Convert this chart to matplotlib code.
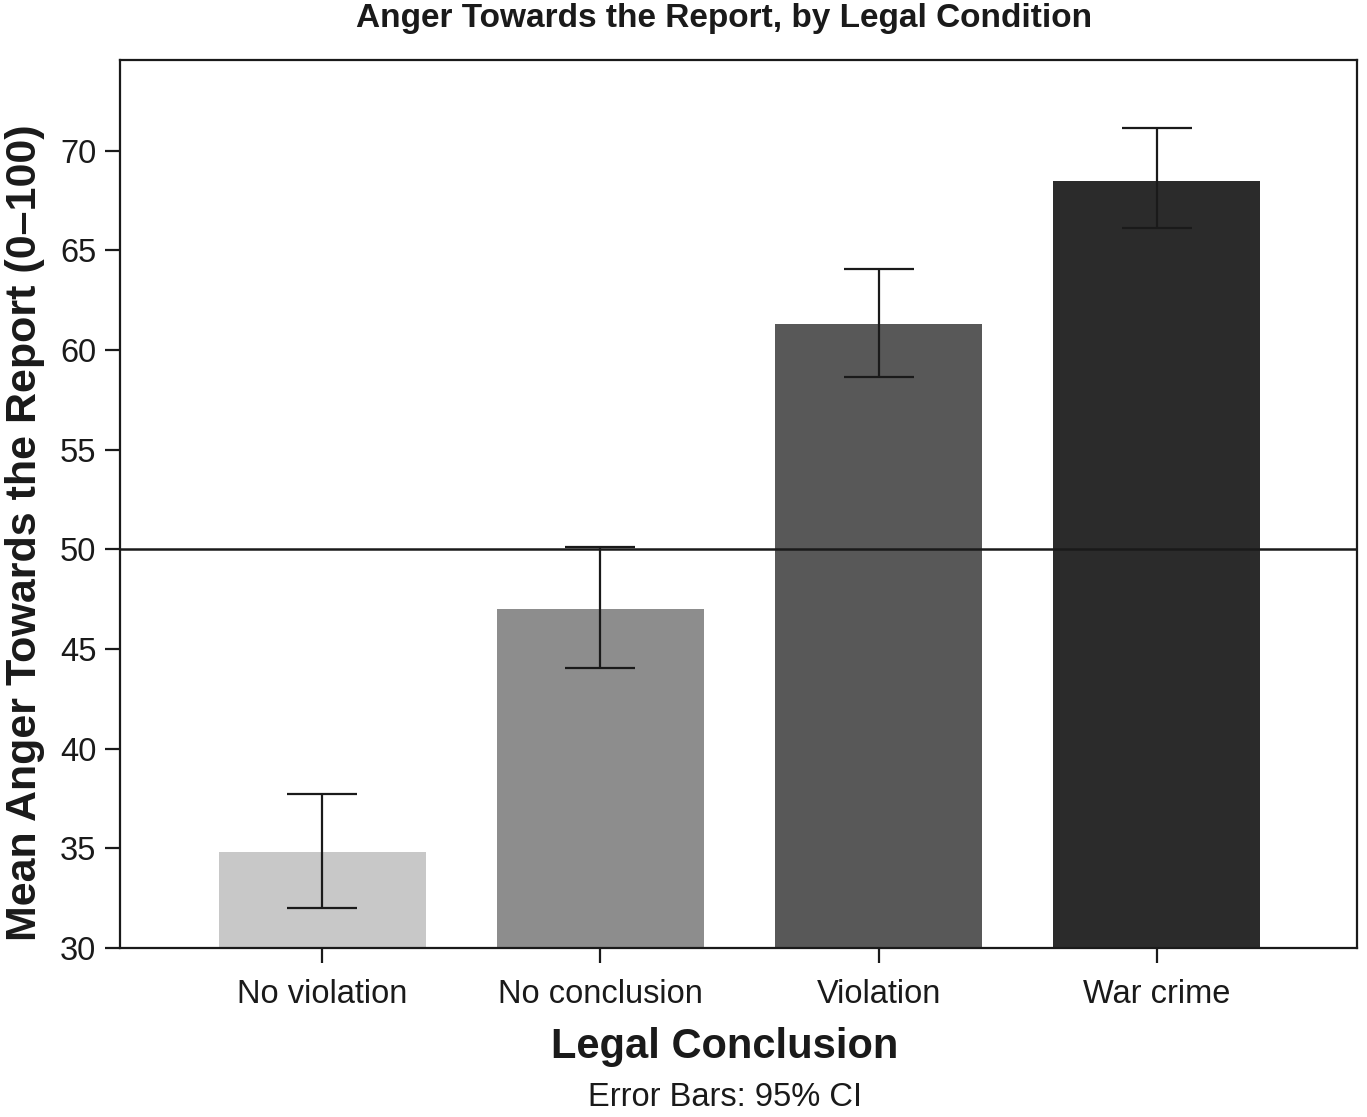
import matplotlib
matplotlib.use("Agg")
import matplotlib.pyplot as plt
import numpy as np

plt.rcParams['font.family'] = ['Liberation Sans', 'DejaVu Sans']

categories = ["No violation", "No conclusion", "Violation", "War crime"]
means = [34.8, 47.0, 61.3, 68.5]
ci_low = [32.0, 44.05, 58.65, 66.1]
ci_high = [37.75, 50.1, 64.05, 71.15]
colors = ["#c8c8c8", "#8d8d8d", "#585858", "#2b2b2b"]

fig = plt.figure(figsize=(13.67, 11.17), dpi=100)
ax = fig.add_axes([120 / 1367, 1 - 948 / 1117, 1237 / 1367, 888 / 1117])

x = np.arange(len(categories))
ax.bar(x, means, width=0.745, color=colors, zorder=1)
m = np.array(means)
yerr = [m - np.array(ci_low), np.array(ci_high) - m]
ax.errorbar(x, means, yerr=yerr, fmt='none', ecolor='#1a1a1a',
            elinewidth=1.6, capsize=25, capthick=1.6, zorder=3)
ax.axhline(50, color='#1a1a1a', lw=1.8, zorder=2)

ax.set_xlim(-0.727, 3.72)
ax.set_ylim(30, 74.55)
ax.set_yticks(range(30, 75, 5))
ax.set_xticks(x)
ax.set_xticklabels(categories)
ax.tick_params(axis='both', labelsize=23.5, length=11, width=1.6,
               color='#1a1a1a', labelcolor='#1a1a1a')
ax.tick_params(axis='x', pad=11)
ax.tick_params(axis='y', pad=6)
for s in ax.spines.values():
    s.set_linewidth(1.6)
    s.set_color('#1a1a1a')

ax.set_ylabel("Mean Anger Towards the Report (0\u2013100)", fontsize=31,
              fontweight='bold', color='#1a1a1a')
ax.yaxis.set_label_coords(-0.0607, 0.468)
ax.set_xlabel("Legal Conclusion", fontsize=30, fontweight='bold',
              color='#1a1a1a')
ax.xaxis.set_label_coords(0.489, -0.089)
fig.text(0.53, 1 - 18 / 1117, "Anger Towards the Report, by Legal Condition",
         ha='center', va='center', fontsize=24, fontweight='bold', color='#1a1a1a')
fig.text(0.53, 1 - 1098 / 1117, "Error Bars: 95% CI", ha='center',
         va='center', fontsize=23.5, color='#1a1a1a')

fig.savefig("out.png", dpi=100, facecolor='white')
